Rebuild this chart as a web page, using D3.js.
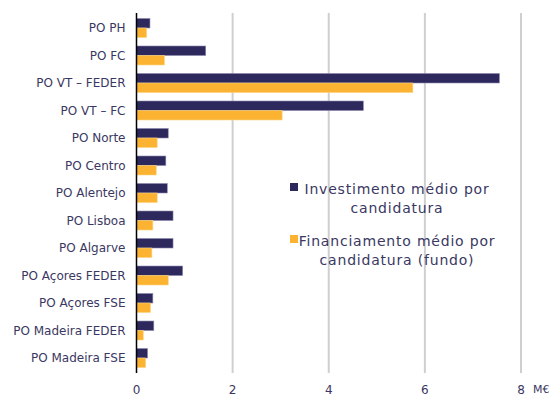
<!DOCTYPE html>
<html>
<head>
<meta charset="utf-8">
<script src="https://cdn.jsdelivr.net/npm/d3@7"></script>
<style>
  body { margin: 0; background: #fff; }
  text { font-family: "DejaVu Sans", Verdana, sans-serif; }
</style>
</head>
<body>
<div id="chart"></div>
<script>
// DATA
const categories = ["PO PH", "PO FC", "PO VT \u2013 FEDER", "PO VT \u2013 FC", "PO Norte", "PO Centro",
  "PO Alentejo", "PO Lisboa", "PO Algarve", "PO A\u00e7ores FEDER", "PO A\u00e7ores FSE",
  "PO Madeira FEDER", "PO Madeira FSE"];
const investimento = [0.28, 1.44, 7.55, 4.72, 0.66, 0.61, 0.64, 0.76, 0.76, 0.96, 0.34, 0.36, 0.23];
const financiamento = [0.21, 0.58, 5.75, 3.03, 0.43, 0.41, 0.43, 0.34, 0.32, 0.66, 0.29, 0.14, 0.19];
const seriesNames = ["Investimento m\u00e9dio por|candidatura", "Financiamento m\u00e9dio por|candidatura (fundo)"];
const xTicks = [0, 2, 4, 6, 8];

const colors = ["#2d295c", "#fbb331"];
const textColor = "#3a3862";

const W = 556, H = 406;
const margin = { top: 13, right: 35, bottom: 33, left: 136.5 };
const width = W - margin.left - margin.right;
const height = H - margin.top - margin.bottom;

const svg = d3.select("#chart").append("svg")
  .attr("width", W).attr("height", H)
  .append("g")
  .attr("transform", `translate(${margin.left},${margin.top})`);

const x = d3.scaleLinear().domain([0, 8]).range([0, 384.5]);
const y = d3.scaleBand().domain(categories).range([0, height]).paddingInner(0.31).paddingOuter(0.2);
const y2 = d3.scaleBand().domain([0, 1]).range([0, y.bandwidth()]);

// gridlines
svg.selectAll(".grid")
  .data(xTicks.filter(d => d > 0))
  .enter().append("line")
  .attr("x1", d => x(d)).attr("x2", d => x(d))
  .attr("y1", 0).attr("y2", height)
  .attr("stroke", "#cfcfcf").attr("stroke-width", 2);

// bars
const rows = categories.map((c, i) => ({ c, vals: [investimento[i], financiamento[i]] }));
const g = svg.selectAll(".row").data(rows).enter().append("g")
  .attr("transform", d => `translate(0,${y(d.c)})`);
g.selectAll("rect")
  .data(d => d.vals.map((v, k) => ({ v, k })))
  .enter().append("rect")
  .attr("x", 0)
  .attr("y", d => y2(d.k))
  .attr("width", d => x(d.v))
  .attr("height", y2.bandwidth())
  .attr("fill", d => colors[d.k])
  .attr("stroke", d => d.k === 0 ? "#8a86ad" : "#fcd27e")
  .attr("stroke-width", 0.6);

// category labels
svg.selectAll(".cat").data(categories).enter().append("text")
  .attr("x", -11)
  .attr("y", d => y(d) + y.bandwidth() / 2)
  .attr("dy", "0.35em")
  .attr("text-anchor", "end")
  .attr("font-size", 12)
  .attr("fill", textColor)
  .text(d => d);

// y axis line
svg.append("line")
  .attr("x1", 0).attr("x2", 0).attr("y1", 0).attr("y2", height)
  .attr("stroke", "#000").attr("stroke-width", 1.5);

// x tick labels
svg.selectAll(".xt").data(xTicks).enter().append("text")
  .attr("x", d => x(d))
  .attr("y", height + 21)
  .attr("text-anchor", "middle")
  .attr("font-size", 12)
  .attr("fill", textColor)
  .text(d => d);

svg.append("text")
  .attr("x", x(8) + 12)
  .attr("y", height + 20)
  .attr("font-size", 11)
  .attr("fill", textColor)
  .text("M\u20ac");

// legend
const legY = [176, 228];
seriesNames.forEach((name, i) => {
  const lg = svg.append("g").attr("transform", `translate(${290 - margin.left},${legY[i] - margin.top})`);
  lg.append("rect").attr("x", 0).attr("y", 7).attr("width", 8).attr("height", 8).attr("fill", colors[i]);
  name.split("|").forEach((line, j) => {
    lg.append("text")
      .attr("x", 107)
      .attr("y", 18 + j * 19)
      .attr("text-anchor", "middle")
      .attr("font-size", 14)
      .attr("letter-spacing", 0.8)
      .attr("fill", textColor)
      .text(line);
  });
});
</script>
</body>
</html>
